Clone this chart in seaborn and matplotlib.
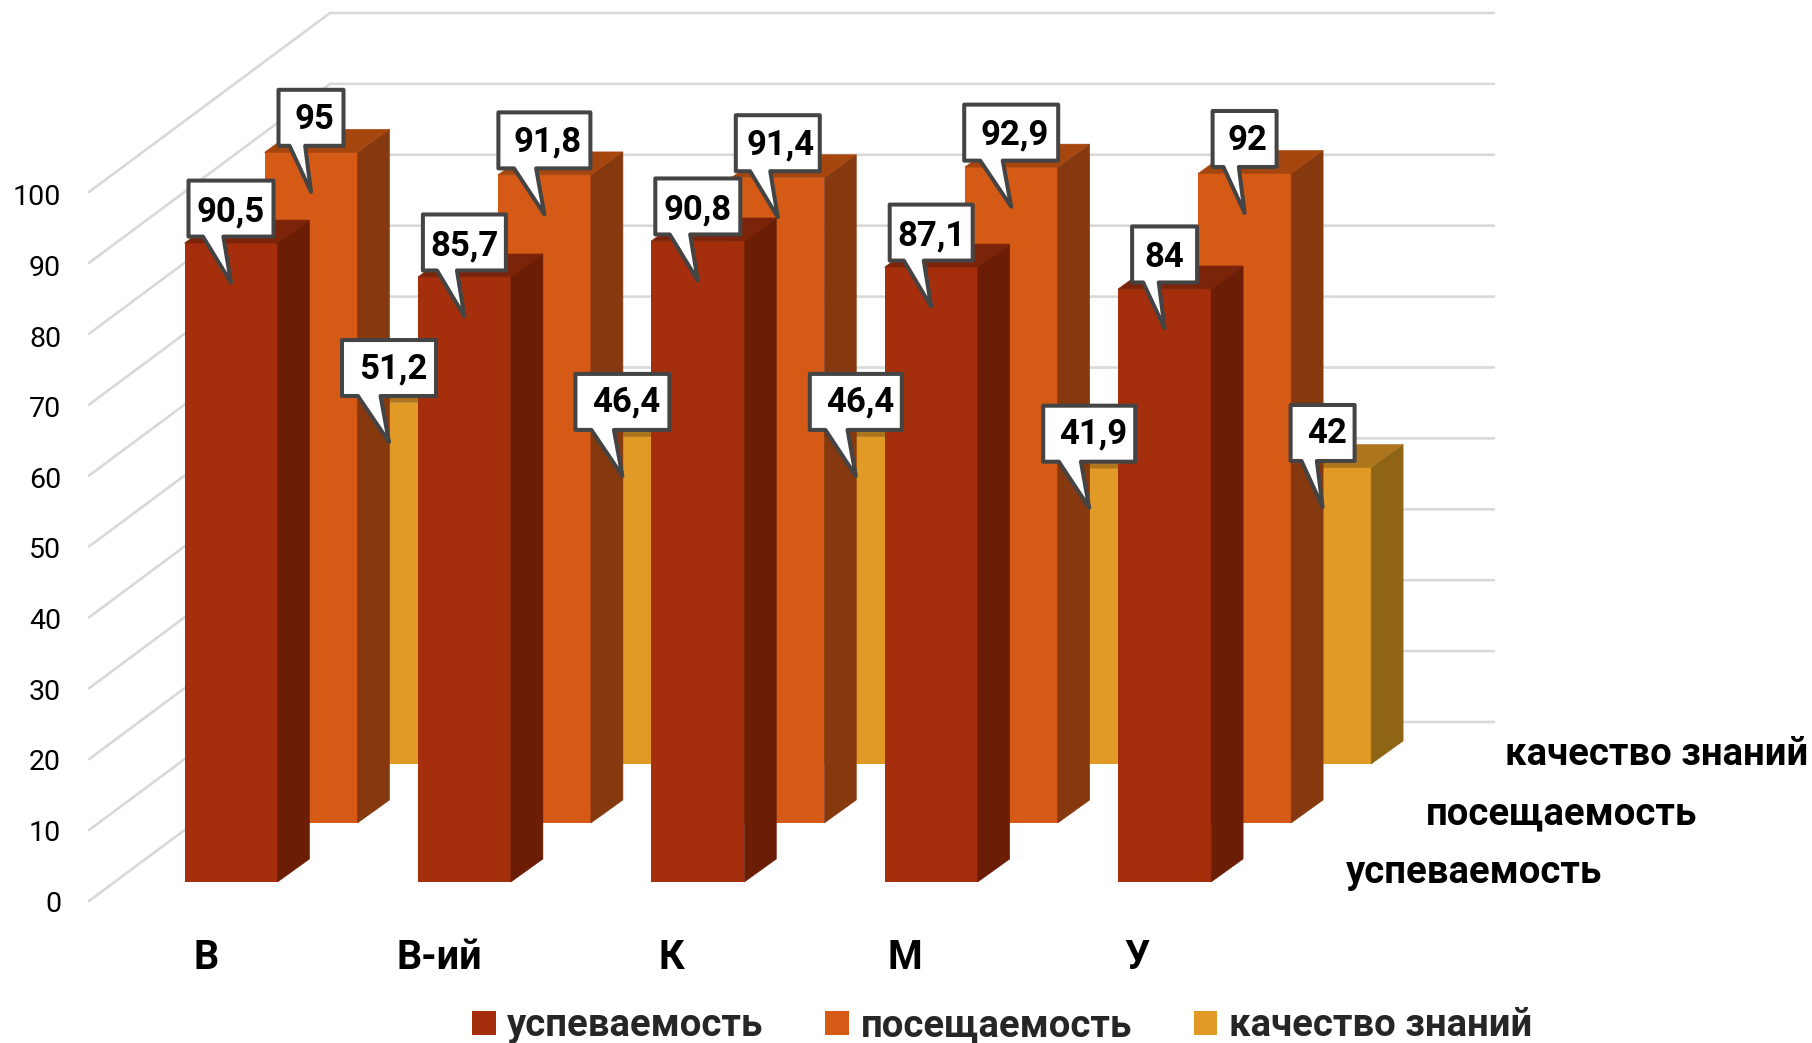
import matplotlib
matplotlib.use("Agg")
import matplotlib.pyplot as plt
from matplotlib.patches import Patch, Polygon
import pandas as pd
import seaborn as sns

# ---- data ----
categories = ["В", "В-ий", "К", "М", "У"]
series_names = ["успеваемость", "посещаемость", "качество знаний"]
uspevaemost = [90.5, 85.7, 90.8, 87.1, 84.0]
poseshchaemost = [95.0, 91.8, 91.4, 92.9, 92.0]
kachestvo = [51.2, 46.4, 46.4, 41.9, 42.0]
value_labels = [
    ["90,5", "85,7", "90,8", "87,1", "84"],
    ["95", "91,8", "91,4", "92,9", "92"],
    ["51,2", "46,4", "46,4", "41,9", "42"],
]
y_levels = [0, 10, 20, 30, 40, 50, 60, 70, 80, 90, 100]

# ---- style ----
W, H = 1812, 1043
FRONT = ["#A52F0C", "#D55A16", "#E09A25"]
SIDE = ["#6B1D06", "#86380F", "#8F6415"]
TOP = ["#7C240A", "#A5460F", "#AC751E"]
GRID = "#D9D9D9"
BORDER = "#444444"
callout_w = [[85, 83, 85, 83, 65], [65, 92, 84, 94, 64], [94, 94, 92, 92, 64]]
text_dx = [0, 3, 4]
text_dy = [71, 72, 73.5]

sns.set_theme(style="white")
plt.rcParams["font.family"] = ["Roboto", "DejaVu Sans"]

frame = pd.DataFrame({
    "category": categories * 3,
    "series": [s for s in series_names for _ in categories],
    "value": uspevaemost + poseshchaemost + kachestvo,
})

fig = plt.figure(figsize=(W / 100, H / 100), dpi=100, facecolor="white")


def axes_px(left, top, right, bottom):
    return fig.add_axes([left / W, (H - bottom) / H, (right - left) / W, (bottom - top) / H])


# geometry in output pixels
PX_CAT = 233.4          # pixels per category
PX_VAL = 7.06           # pixels per value unit
BAR_W = 93 / PX_CAT
SHIFT_X, SHIFT_Y = 80, 59   # offset between rows in depth
DEPTH_X, DEPTH_Y = 32 / PX_CAT, 23 / PX_VAL   # bar extrusion in data units
X0, Y0 = 231 - PX_CAT / 2, 882

# back and left walls
wall = axes_px(89, 13, 1494, 901)
wall.set_zorder(0)
wall.set_xlim(0, 1)
drop = 179 / 7.09
wall.set_ylim(-drop, 100)
wall_x = 241 / 1405
for lv in y_levels:
    wall.plot([0, wall_x, 1], [lv - drop, lv, lv], color=GRID, lw=1.9, clip_on=False,
              solid_joinstyle="miter")
wall.set_xticks([])
wall.set_yticks([lv * 0.9958 - drop for lv in y_levels])
wall.set_yticklabels([str(lv) for lv in y_levels], fontsize=20.5, color="black")
wall.tick_params(axis="y", length=0, pad=20)
sns.despine(ax=wall, left=True, bottom=True)
wall.patch.set_alpha(0)

# rows of bars, back to front
axes = {}
for k in (2, 1, 0):
    ax = axes_px(X0 + k * SHIFT_X, Y0 - 706 - k * SHIFT_Y, X0 + 5 * PX_CAT + k * SHIFT_X, Y0 - k * SHIFT_Y)
    ax.set_zorder(3 - k)
    ax.patch.set_alpha(0)
    sub = frame[frame["series"] == series_names[k]]
    sns.barplot(data=sub, x="category", y="value", color=FRONT[k], saturation=1,
                width=BAR_W, errorbar=None, ax=ax, order=categories, linewidth=0)
    ax.set_xlim(-0.5, 4.5)
    ax.set_ylim(0, 100)
    ax.set_xlabel("")
    ax.set_ylabel("")
    ax.set_yticks([])
    for i, v in enumerate(sub["value"]):
        l, r = i - BAR_W / 2, i + BAR_W / 2
        ax.add_patch(Polygon([(r, 0), (r + DEPTH_X, DEPTH_Y), (r + DEPTH_X, v + DEPTH_Y), (r, v)],
                             closed=True, fc=SIDE[k], ec=SIDE[k], lw=0.4, clip_on=False))
        ax.add_patch(Polygon([(l, v), (r, v), (r + DEPTH_X, v + DEPTH_Y), (l + DEPTH_X, v + DEPTH_Y)],
                             closed=True, fc=TOP[k], ec=TOP[k], lw=0.4, clip_on=False))
    ax.text(4.775, -0.15, series_names[k], fontsize=27.5, fontweight="bold",
            color="black", ha="left", va="baseline", clip_on=False)
    sns.despine(ax=ax, left=True, bottom=True)
    axes[k] = ax

front = axes[0]
front.set_xticks([i - (24.5 + 0.75 * i) / PX_CAT for i in range(len(categories))])
front.set_xticklabels(categories, fontsize=28.5, fontweight="bold", color="black")
front.tick_params(axis="x", length=0, pad=41)
for k in (1, 2):
    axes[k].set_xticks([])

# callouts, drawn on the front axes above every bar
values = [uspevaemost, poseshchaemost, kachestvo]
for k in (2, 1, 0):
    for i, v in enumerate(values[k]):
        tip_x = i + (k * SHIFT_X - (2 if k == 2 else 0)) / PX_CAT
        tip_y = v + k * SHIFT_Y / PX_VAL - 39.5 / PX_VAL
        hw = callout_w[k][i] / 2
        base_l, base_r = -0.33 * hw * 2, -0.09 * hw * 2
        pts = [(-hw, 46), (base_l, 46), (0, 0), (base_r, 46), (hw, 46), (hw, 102), (-hw, 102)]
        verts = [(tip_x + px / PX_CAT, tip_y + py / PX_VAL) for px, py in pts]
        front.add_patch(Polygon(verts, closed=True, fc="white", ec=BORDER, lw=2.9,
                                joinstyle="round", clip_on=False, zorder=10 + (2 - k)))
        front.text(tip_x + text_dx[k] / PX_CAT, tip_y + text_dy[k] / PX_VAL, value_labels[k][i], fontsize=25,
                   fontweight="bold", color="black", ha="center", va="center",
                   zorder=10.5 + (2 - k), clip_on=False)

# legend
handles = [Patch(facecolor=c, edgecolor="none", label=n) for c, n in zip(FRONT, series_names)]
fig.legend(handles=handles, loc="center", bbox_to_anchor=(1002 / W, 1 - 1026 / H), ncol=3,
           frameon=False, prop={"size": 27.5, "weight": "bold"}, handlelength=0.62, handleheight=0.62,
           handletextpad=0.3, columnspacing=1.62, borderpad=0, borderaxespad=0)

fig.savefig("out.png", dpi=100, facecolor="white")
